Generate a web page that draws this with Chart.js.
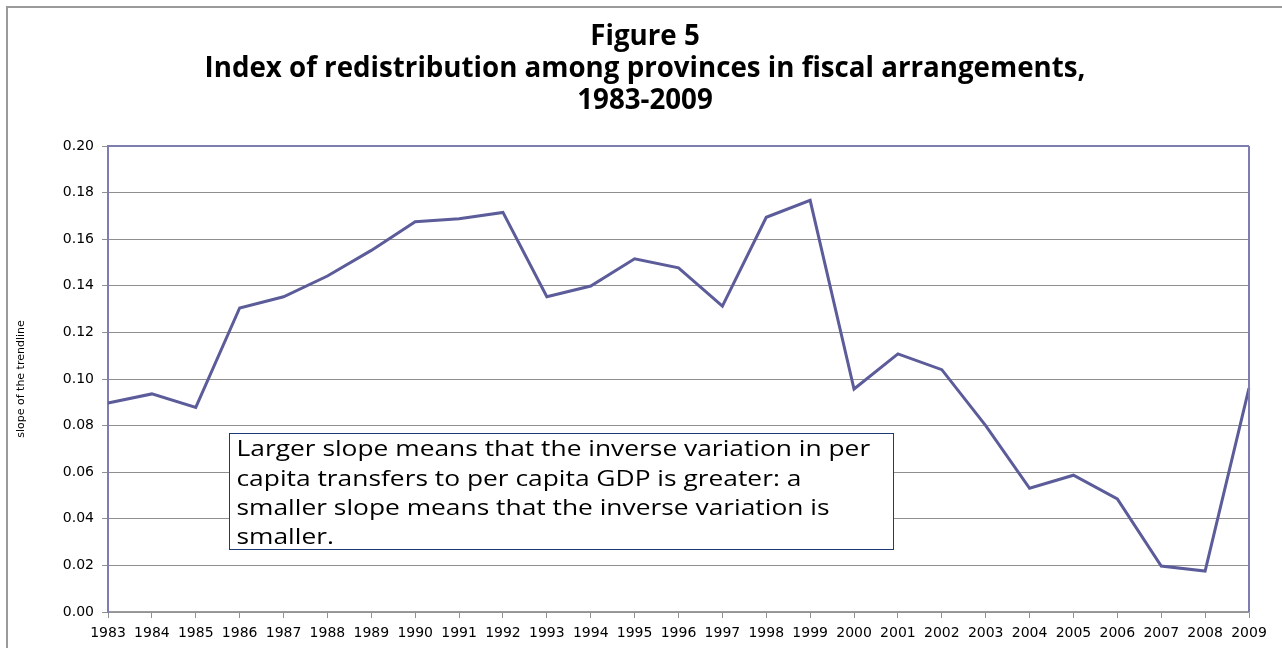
<!DOCTYPE html>
<html>
<head>
<meta charset="utf-8">
<script src="https://cdn.jsdelivr.net/npm/chart.js@4"></script>
<style>
html,body{margin:0;padding:0;background:#fff;}
#wrap{position:relative;width:1282px;height:648px;}
canvas{display:block;}
</style>
</head>
<body>
<div id="wrap"><canvas id="c" width="1282" height="648"></canvas></div>
<script>
const years = ['1983','1984','1985','1986','1987','1988','1989','1990','1991','1992','1993','1994','1995','1996','1997','1998','1999','2000','2001','2002','2003','2004','2005','2006','2007','2008','2009'];
const redistributionIndex = [0.0897,0.0936,0.0878,0.1305,0.1353,0.1442,0.1552,0.1675,0.1688,0.1715,0.1353,0.1399,0.1516,0.1477,0.1313,0.1694,0.1767,0.0957,0.1108,0.1040,0.0800,0.0531,0.0587,0.0485,0.0197,0.0176,0.0961];
const yTickValues = [0,0.02,0.04,0.06,0.08,0.10,0.12,0.14,0.16,0.18,0.20];
const titleLines = ['Figure 5','Index of redistribution among provinces in fiscal arrangements,','1983-2009'];
const yAxisTitle = 'slope of the trendline';
const noteLines = ['Larger slope means that the inverse variation in per','capita transfers to per capita GDP is greater: a','smaller slope means that the inverse variation is','smaller.'];

const framePlugin = {
  id:'frame',
  beforeDraw(chart){
    const ctx = chart.ctx;
    ctx.save();
    ctx.fillStyle='#fff';
    ctx.fillRect(0,0,chart.width,chart.height);
    ctx.strokeStyle='#9a9a9a';
    ctx.lineWidth=2;
    ctx.beginPath();
    ctx.moveTo(7,chart.height);
    ctx.lineTo(7,7);
    ctx.lineTo(chart.width,7);
    ctx.stroke();
    // title
    ctx.fillStyle='#000';
    ctx.font='bold 27.7px "Open Sans"';
    ctx.textAlign='center';
    ctx.textBaseline='middle';
    titleLines.forEach((t,i)=>ctx.fillText(t,645,37+i*32));
    ctx.restore();
  }
};

const borderPlugin = {
  id:'plotBorder',
  afterDatasetsDraw(chart){
    const a = chart.chartArea, ctx = chart.ctx;
    ctx.save();
    ctx.strokeStyle='#7d7db2';
    ctx.lineWidth=2;
    ctx.beginPath();
    ctx.moveTo(a.left,a.top);
    ctx.lineTo(a.right,a.top);
    ctx.moveTo(a.right,a.top);
    ctx.lineTo(a.right,a.bottom);
    ctx.stroke();
    ctx.restore();
  }
};

const notePlugin = {
  id:'note',
  afterDraw(chart){
    const xs = chart.scales.x, ys = chart.scales.y, ctx = chart.ctx;
    const x0 = Math.round(xs.getPixelForValue(2.76))+0.5;
    const x1 = Math.round(xs.getPixelForValue(17.89))+0.5;
    const y0 = Math.round(ys.getPixelForValue(0.0768))+0.5;
    const y1 = Math.round(ys.getPixelForValue(0.0270))+0.5;
    ctx.save();
    ctx.fillStyle='#fff';
    ctx.fillRect(x0,y0,x1-x0,y1-y0);
    ctx.strokeStyle='#1f3a78';
    ctx.lineWidth=1;
    ctx.strokeRect(x0,y0,x1-x0,y1-y0);
    ctx.fillStyle='#000';
    ctx.font='21px "Open Sans"';
    ctx.textBaseline='middle';
    ctx.textAlign='left';
    const sx = 1.255;
    ctx.translate(x0+7,0);
    ctx.scale(sx,1);
    noteLines.forEach((t,i)=>ctx.fillText(t,0,y0+17+i*29.3));
    ctx.restore();
  }
};

new Chart(document.getElementById('c'),{
  type:'line',
  data:{
    labels:years,
    datasets:[{
      data:redistributionIndex,
      borderColor:'#5c5c9a',
      borderWidth:3,
      pointRadius:0,
      tension:0,
      fill:false
    }]
  },
  options:{
    responsive:false,
    animation:false,
    layout:{padding:{left:0,right:33,bottom:0,top:146}},
    plugins:{
      legend:{display:false},
      tooltip:{enabled:false},
      title:{display:false}
    },
    scales:{
      x:{
        offset:false,
        grid:{drawOnChartArea:false,drawTicks:true,tickLength:6,color:'#8f8f8f',offset:false},
        border:{color:'#9a9a9a',width:1.5},
        ticks:{color:'#000',font:{family:'DejaVu Sans',size:14},maxRotation:0,autoSkip:false,padding:7},
        afterFit(s){s.height=36;}
      },
      y:{
        min:0,max:0.2,
        afterBuildTicks(s){s.ticks=yTickValues.map(v=>({value:v}));},
        ticks:{color:'#000',font:{family:'DejaVu Sans',size:14},padding:8,callback:v=>Number(v).toFixed(2)},
        grid:{color:'#8f8f8f',lineWidth:1,tickLength:6},
        border:{color:'#7d7db2',width:2},
        title:{display:true,text:yAxisTitle,color:'#000',font:{family:'DejaVu Sans',size:11},padding:{top:15,bottom:0}},
        afterFit(s){s.width=108;}
      }
    }
  },
  plugins:[framePlugin,borderPlugin,notePlugin]
});
</script>
</body>
</html>
